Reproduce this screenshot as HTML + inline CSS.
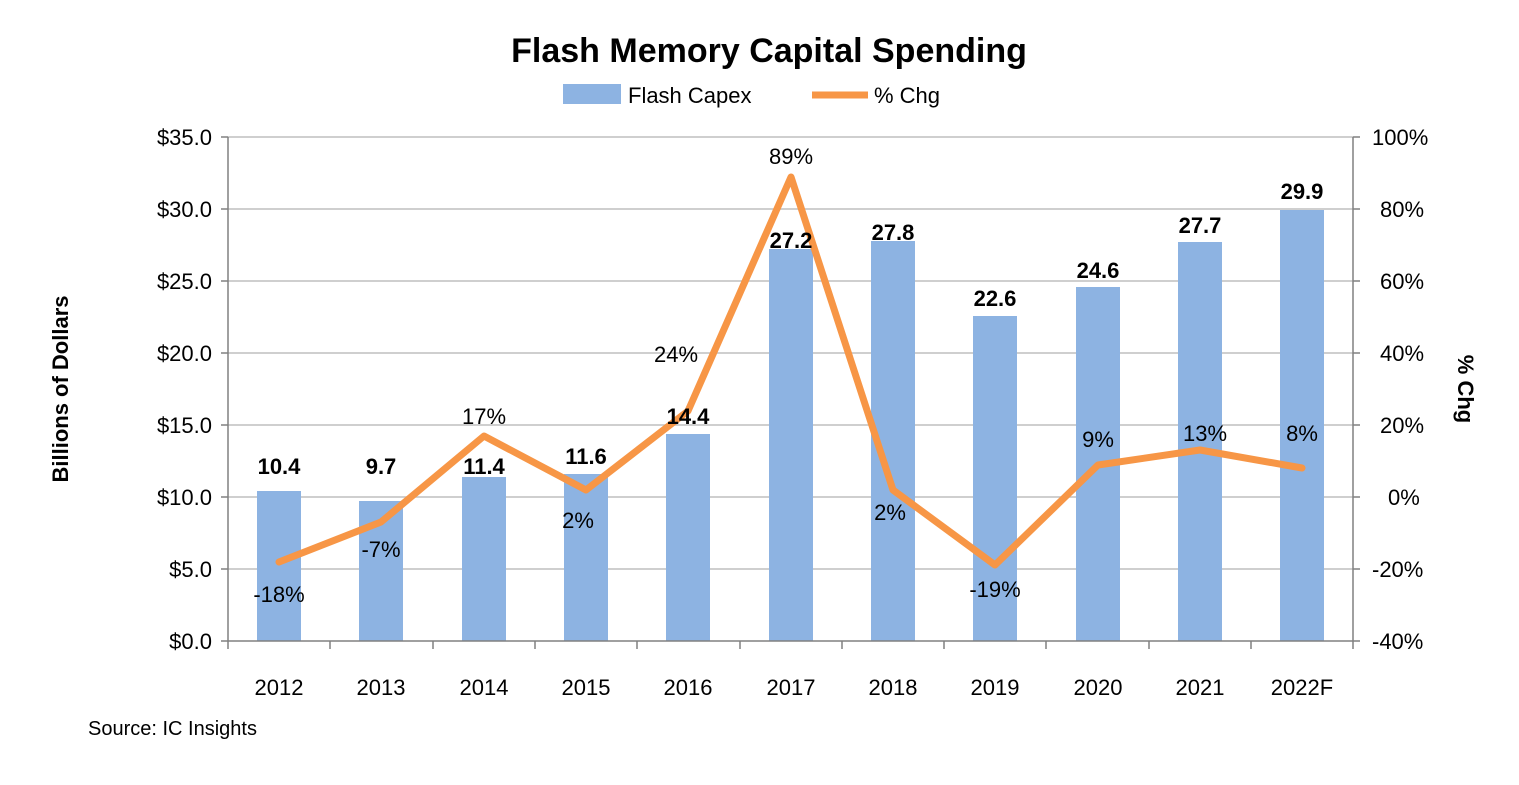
<!DOCTYPE html>
<html><head><meta charset="utf-8"><style>
body{margin:0;background:#fff;}
svg text{font-family:"Liberation Sans",sans-serif;fill:#000;}
</style></head><body>
<svg width="1519" height="780" xmlns="http://www.w3.org/2000/svg">
<rect width="1519" height="780" fill="#fff"/>
<text x="769" y="62" font-size="34" font-weight="bold" text-anchor="middle">Flash Memory Capital Spending</text>
<rect x="563" y="84" width="58" height="20" fill="#8db3e2"/>
<text x="628" y="103" font-size="22">Flash Capex</text>
<line x1="812" y1="95" x2="868" y2="95" stroke="#f79646" stroke-width="7"/>
<text x="874" y="103" font-size="22">% Chg</text>
<g stroke="#bfbfbf" stroke-width="1.5">
<line x1="228" y1="137" x2="1353" y2="137"/><line x1="228" y1="209" x2="1353" y2="209"/>
<line x1="228" y1="281" x2="1353" y2="281"/><line x1="228" y1="353" x2="1353" y2="353"/>
<line x1="228" y1="425" x2="1353" y2="425"/><line x1="228" y1="497" x2="1353" y2="497"/>
<line x1="228" y1="569" x2="1353" y2="569"/>
</g>
<g fill="#8db3e2">
<rect x="257" y="491" width="44" height="150"/>
<rect x="359" y="501" width="44" height="140"/>
<rect x="462" y="477" width="44" height="164"/>
<rect x="564" y="474" width="44" height="167"/>
<rect x="666" y="434" width="44" height="207"/>
<rect x="769" y="249" width="44" height="392"/>
<rect x="871" y="241" width="44" height="400"/>
<rect x="973" y="316" width="44" height="325"/>
<rect x="1076" y="287" width="44" height="354"/>
<rect x="1178" y="242" width="44" height="399"/>
<rect x="1280" y="210" width="44" height="431"/>
</g>
<g stroke="#808080" stroke-width="1.5">
<line x1="228" y1="137" x2="228" y2="641"/><line x1="1353" y1="137" x2="1353" y2="641"/>
<line x1="228" y1="641" x2="1353" y2="641"/>
</g>
<g stroke="#808080" stroke-width="1.5">
<line x1="221" y1="137" x2="228" y2="137"/><line x1="221" y1="209" x2="228" y2="209"/><line x1="221" y1="281" x2="228" y2="281"/><line x1="221" y1="353" x2="228" y2="353"/><line x1="221" y1="425" x2="228" y2="425"/><line x1="221" y1="497" x2="228" y2="497"/><line x1="221" y1="569" x2="228" y2="569"/><line x1="221" y1="641" x2="228" y2="641"/>
<line x1="1353" y1="137" x2="1360" y2="137"/><line x1="1353" y1="209" x2="1360" y2="209"/><line x1="1353" y1="281" x2="1360" y2="281"/><line x1="1353" y1="353" x2="1360" y2="353"/><line x1="1353" y1="425" x2="1360" y2="425"/><line x1="1353" y1="497" x2="1360" y2="497"/><line x1="1353" y1="569" x2="1360" y2="569"/><line x1="1353" y1="641" x2="1360" y2="641"/>
<line x1="228" y1="641" x2="228" y2="649"/><line x1="330" y1="641" x2="330" y2="649"/><line x1="433" y1="641" x2="433" y2="649"/><line x1="535" y1="641" x2="535" y2="649"/><line x1="637" y1="641" x2="637" y2="649"/><line x1="740" y1="641" x2="740" y2="649"/><line x1="842" y1="641" x2="842" y2="649"/><line x1="944" y1="641" x2="944" y2="649"/><line x1="1046" y1="641" x2="1046" y2="649"/><line x1="1149" y1="641" x2="1149" y2="649"/><line x1="1251" y1="641" x2="1251" y2="649"/><line x1="1353" y1="641" x2="1353" y2="649"/>
</g>
<polyline fill="none" stroke="#f79646" stroke-width="7" stroke-linejoin="round" stroke-linecap="round"
points="279,562 381,522 484,436 586,490 688,411 791,177 893,490 995,565 1098,465 1200,450 1302,468"/>
<g font-size="22" text-anchor="end">
<text x="212" y="145">$35.0</text><text x="212" y="217">$30.0</text><text x="212" y="289">$25.0</text><text x="212" y="361">$20.0</text><text x="212" y="433">$15.0</text><text x="212" y="505">$10.0</text><text x="212" y="577">$5.0</text><text x="212" y="649">$0.0</text>
</g>
<g font-size="22">
<text x="1372" y="145">100%</text><text x="1380" y="217">80%</text><text x="1380" y="289">60%</text><text x="1380" y="361">40%</text><text x="1380" y="433">20%</text><text x="1388" y="505">0%</text><text x="1372" y="577">-20%</text><text x="1372" y="649">-40%</text>
</g>
<g font-size="22" text-anchor="middle">
<text x="279" y="695">2012</text><text x="381" y="695">2013</text><text x="484" y="695">2014</text><text x="586" y="695">2015</text><text x="688" y="695">2016</text><text x="791" y="695">2017</text><text x="893" y="695">2018</text><text x="995" y="695">2019</text><text x="1098" y="695">2020</text><text x="1200" y="695">2021</text><text x="1302" y="695">2022F</text>
</g>
<g font-size="22" font-weight="bold" text-anchor="middle">
<text x="279" y="474">10.4</text><text x="381" y="474">9.7</text><text x="484" y="474">11.4</text><text x="586" y="464">11.6</text><text x="688" y="424">14.4</text><text x="791" y="248">27.2</text><text x="893" y="240">27.8</text><text x="995" y="306">22.6</text><text x="1098" y="278">24.6</text><text x="1200" y="233">27.7</text><text x="1302" y="199">29.9</text>
</g>
<g font-size="22" text-anchor="middle">
<text x="279" y="602">-18%</text><text x="381" y="557">-7%</text><text x="484" y="424">17%</text><text x="578" y="528">2%</text><text x="676" y="362">24%</text><text x="791" y="164">89%</text><text x="890" y="520">2%</text><text x="995" y="597">-19%</text><text x="1098" y="447">9%</text><text x="1205" y="441">13%</text><text x="1302" y="441">8%</text>
</g>
<text transform="translate(68,389) rotate(-90)" font-size="22" font-weight="bold" text-anchor="middle">Billions of Dollars</text>
<text transform="translate(1458,389) rotate(90)" font-size="22" font-weight="bold" text-anchor="middle">% Chg</text>
<text x="88" y="735" font-size="20">Source:  IC Insights</text>
</svg>
</body></html>
